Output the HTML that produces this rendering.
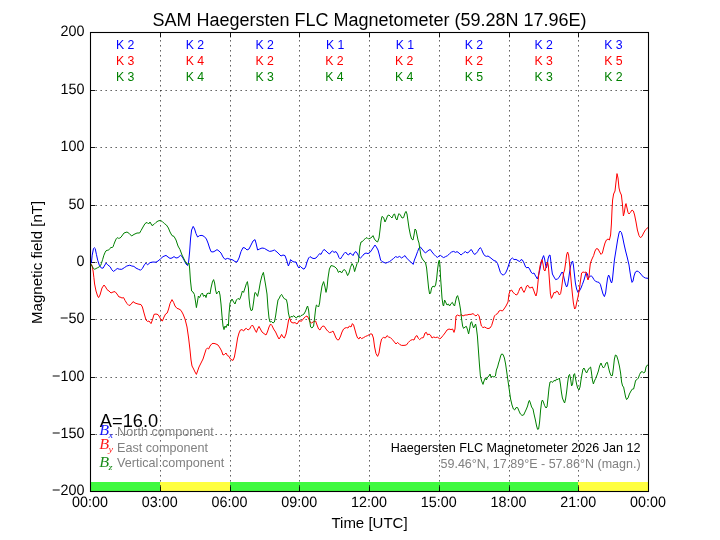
<!DOCTYPE html>
<html><head><meta charset="utf-8"><title>SAM Haegersten FLC Magnetometer</title>
<style>html,body{margin:0;padding:0;background:#fff;width:720px;height:540px;overflow:hidden}</style></head>
<body>
<svg width="720" height="540" viewBox="0 0 720 540" style="display:block;position:absolute;left:0;top:0;will-change:transform">
<rect x="0" y="0" width="720" height="540" fill="#ffffff"/>
<rect x="90.00" y="482" width="70.00" height="9.5" fill="#40f940"/>
<rect x="160.00" y="482" width="70.00" height="9.5" fill="#ffff40"/>
<rect x="230.00" y="482" width="348.00" height="9.5" fill="#40f940"/>
<rect x="578.00" y="482" width="70.00" height="9.5" fill="#ffff40"/>
<g stroke="#000" stroke-width="0.72" stroke-dasharray="1.35,3.65" fill="none">
<line x1="160.50" y1="491.5" x2="160.50" y2="32.5"/>
<line x1="230.50" y1="491.5" x2="230.50" y2="32.5"/>
<line x1="299.50" y1="491.5" x2="299.50" y2="32.5"/>
<line x1="369.50" y1="491.5" x2="369.50" y2="32.5"/>
<line x1="439.50" y1="491.5" x2="439.50" y2="32.5"/>
<line x1="509.50" y1="491.5" x2="509.50" y2="32.5"/>
<line x1="578.50" y1="491.5" x2="578.50" y2="32.5"/>
<line x1="90.5" y1="434.5" x2="648.5" y2="434.5"/>
<line x1="90.5" y1="377.5" x2="648.5" y2="377.5"/>
<line x1="90.5" y1="319.5" x2="648.5" y2="319.5"/>
<line x1="90.5" y1="262.5" x2="648.5" y2="262.5"/>
<line x1="90.5" y1="205.5" x2="648.5" y2="205.5"/>
<line x1="90.5" y1="147.5" x2="648.5" y2="147.5"/>
<line x1="90.5" y1="90.5" x2="648.5" y2="90.5"/>
</g>
<g stroke="#000" stroke-width="0.9" fill="none">
<line x1="90.50" y1="491.5" x2="90.50" y2="486.4"/>
<line x1="90.50" y1="32.5" x2="90.50" y2="37.4"/>
<line x1="160.50" y1="491.5" x2="160.50" y2="486.4"/>
<line x1="160.50" y1="32.5" x2="160.50" y2="37.4"/>
<line x1="230.50" y1="491.5" x2="230.50" y2="486.4"/>
<line x1="230.50" y1="32.5" x2="230.50" y2="37.4"/>
<line x1="299.50" y1="491.5" x2="299.50" y2="486.4"/>
<line x1="299.50" y1="32.5" x2="299.50" y2="37.4"/>
<line x1="369.50" y1="491.5" x2="369.50" y2="486.4"/>
<line x1="369.50" y1="32.5" x2="369.50" y2="37.4"/>
<line x1="439.50" y1="491.5" x2="439.50" y2="486.4"/>
<line x1="439.50" y1="32.5" x2="439.50" y2="37.4"/>
<line x1="509.50" y1="491.5" x2="509.50" y2="486.4"/>
<line x1="509.50" y1="32.5" x2="509.50" y2="37.4"/>
<line x1="578.50" y1="491.5" x2="578.50" y2="486.4"/>
<line x1="578.50" y1="32.5" x2="578.50" y2="37.4"/>
<line x1="648.50" y1="491.5" x2="648.50" y2="486.4"/>
<line x1="648.50" y1="32.5" x2="648.50" y2="37.4"/>
<line x1="90.5" y1="491.5" x2="95.0" y2="491.5"/>
<line x1="648.5" y1="491.5" x2="643.0" y2="491.5"/>
<line x1="90.5" y1="434.5" x2="95.0" y2="434.5"/>
<line x1="648.5" y1="434.5" x2="643.0" y2="434.5"/>
<line x1="90.5" y1="377.5" x2="95.0" y2="377.5"/>
<line x1="648.5" y1="377.5" x2="643.0" y2="377.5"/>
<line x1="90.5" y1="319.5" x2="95.0" y2="319.5"/>
<line x1="648.5" y1="319.5" x2="643.0" y2="319.5"/>
<line x1="90.5" y1="262.5" x2="95.0" y2="262.5"/>
<line x1="648.5" y1="262.5" x2="643.0" y2="262.5"/>
<line x1="90.5" y1="205.5" x2="95.0" y2="205.5"/>
<line x1="648.5" y1="205.5" x2="643.0" y2="205.5"/>
<line x1="90.5" y1="147.5" x2="95.0" y2="147.5"/>
<line x1="648.5" y1="147.5" x2="643.0" y2="147.5"/>
<line x1="90.5" y1="90.5" x2="95.0" y2="90.5"/>
<line x1="648.5" y1="90.5" x2="643.0" y2="90.5"/>
<line x1="90.5" y1="32.5" x2="95.0" y2="32.5"/>
<line x1="648.5" y1="32.5" x2="643.0" y2="32.5"/>
</g>
<g fill="none" stroke-width="1" stroke-linejoin="round">
<path stroke="#0000ff" d="M91.0,263.5 L91.4,262.7 L92.2,255.2 L93.5,248.5 L94.3,247.7 L95.2,248.5 L96.4,254.3 L97.7,260.2 L99.3,265.2 L101.4,268.1 L103.1,268.1 L106.0,263.1 L107.7,264.8 L110.2,266.8 L111.8,269.8 L113.5,271.4 L115.2,270.2 L117.2,268.5 L119.3,269.2 L121.8,269.3 L124.3,267.7 L126.8,266.0 L129.8,265.2 L131.8,266.0 L133.9,266.4 L136.0,268.1 L138.5,269.3 L140.6,270.2 L142.4,268.4 L144.6,264.4 L146.0,263.2 L147.6,264.8 L150.0,262.6 L153.0,262.0 L156.0,262.2 L158.0,261.0 L160.4,259.0 L163.0,256.6 L166.0,255.4 L168.0,257.0 L170.0,258.4 L172.0,258.0 L174.0,256.6 L176.0,258.0 L178.0,257.6 L180.4,255.4 L182.0,256.4 L184.0,260.0 L186.0,264.0 L187.6,265.6 L188.6,262.0 L189.6,252.0 L190.6,238.0 L191.6,230.0 L193.2,226.4 L194.6,229.0 L196.0,233.6 L197.6,237.0 L199.6,235.6 L202.0,235.4 L204.4,236.6 L206.4,239.0 L208.0,243.0 L209.6,248.0 L211.0,251.6 L213.0,252.0 L215.0,251.0 L217.0,249.6 L219.0,251.0 L221.0,253.0 L223.0,257.0 L225.0,259.4 L227.4,258.4 L230.0,259.2 L233.0,260.0 L235.0,261.6 L237.0,262.0 L239.0,258.0 L241.0,251.6 L243.0,247.6 L245.0,248.0 L247.0,250.0 L249.0,249.0 L251.0,245.0 L253.0,241.0 L255.0,239.6 L256.0,243.0 L257.6,250.0 L259.6,249.0 L262.0,248.0 L264.4,248.4 L267.0,250.0 L269.6,251.4 L272.0,251.0 L274.4,250.0 L277.0,252.0 L279.0,254.0 L281.0,256.0 L283.0,255.0 L285.0,255.6 L286.6,260.0 L288.4,266.0 L289.6,263.0 L290.6,259.6 L292.0,261.0 L294.0,262.0 L296.0,262.0 L297.6,266.0 L299.0,268.0 L300.4,266.4 L302.0,268.0 L304.0,269.2 L305.6,267.0 L307.0,262.0 L308.6,258.0 L310.0,256.6 L312.0,258.0 L314.0,258.6 L316.0,258.0 L318.0,255.6 L319.6,253.6 L321.0,254.4 L322.4,251.6 L324.0,249.4 L326.0,251.0 L328.0,253.0 L329.6,254.0 L331.0,252.0 L332.6,251.0 L334.0,252.4 L336.0,251.6 L337.6,254.0 L339.0,257.6 L340.4,259.0 L342.0,256.6 L344.0,253.6 L345.6,252.0 L347.0,254.0 L348.6,255.0 L350.0,253.0 L351.6,254.0 L353.0,255.6 L354.6,252.4 L356.0,251.6 L357.6,254.0 L359.0,257.0 L360.4,258.0 L362.0,256.6 L364.0,254.0 L366.0,253.0 L368.0,253.6 L370.0,252.4 L371.0,251.0 L373.0,248.0 L375.0,245.0 L376.4,247.0 L378.0,250.0 L379.4,255.0 L380.6,260.0 L382.0,261.6 L384.0,262.4 L385.6,263.2 L387.6,262.4 L389.6,261.6 L391.6,260.0 L393.6,258.4 L395.6,256.6 L397.6,257.4 L399.6,256.4 L401.6,258.0 L403.6,256.6 L405.0,255.6 L406.6,258.0 L408.6,260.0 L410.6,262.0 L412.0,263.0 L413.2,264.4 L414.4,260.0 L416.0,256.0 L417.6,251.6 L419.0,248.0 L420.4,247.0 L422.0,249.0 L423.6,251.0 L425.4,253.0 L427.0,251.6 L429.0,250.0 L430.4,249.6 L432.0,252.0 L434.0,254.4 L436.0,256.4 L437.4,257.4 L439.0,256.0 L440.4,255.4 L442.0,256.6 L443.6,257.6 L445.6,256.6 L447.6,255.6 L449.6,253.6 L451.6,252.0 L453.6,251.4 L455.6,252.4 L457.0,251.6 L459.0,253.0 L461.0,255.0 L462.4,254.0 L464.0,252.4 L465.6,251.6 L467.0,253.0 L468.6,252.4 L470.0,250.4 L471.4,249.6 L473.0,252.4 L474.4,254.4 L476.0,253.6 L477.6,251.6 L479.0,249.0 L480.4,247.6 L481.6,249.6 L483.0,253.0 L484.6,255.6 L486.4,256.4 L488.0,256.0 L490.0,257.4 L492.0,259.0 L494.0,260.6 L496.0,261.2 L497.6,263.6 L499.0,268.0 L500.4,272.4 L502.0,274.6 L503.6,275.0 L505.6,273.0 L507.4,269.0 L509.0,264.0 L510.4,259.6 L512.4,258.0 L514.0,259.6 L516.0,259.4 L518.0,260.6 L519.6,261.6 L521.0,259.6 L522.4,260.0 L524.0,263.0 L525.6,267.0 L527.0,268.0 L528.0,267.0 L529.6,269.0 L531.0,272.0 L532.4,273.6 L534.0,273.0 L535.6,276.0 L537.4,279.0 L538.6,275.0 L540.0,269.0 L541.4,262.0 L542.6,258.0 L543.6,255.6 L544.6,259.0 L545.6,265.0 L546.4,268.0 L547.2,265.0 L548.0,259.0 L549.0,255.6 L550.0,255.0 L550.6,259.0 L551.4,267.0 L552.4,274.0 L554.0,277.0 L555.6,279.6 L557.4,279.0 L559.0,277.6 L560.4,275.0 L562.0,272.0 L563.0,273.0 L564.0,278.0 L565.4,284.0 L566.6,287.0 L567.6,285.0 L568.6,279.0 L569.6,272.0 L570.6,266.0 L571.6,262.4 L572.6,261.0 L573.4,265.0 L574.4,274.0 L575.4,283.0 L576.6,289.0 L578.0,292.4 L579.4,291.0 L581.0,288.0 L582.4,284.4 L584.0,280.0 L585.4,275.0 L586.4,272.4 L587.4,274.0 L588.4,278.0 L589.6,277.0 L591.0,275.6 L592.4,277.0 L594.0,279.6 L595.6,281.4 L597.4,282.0 L599.0,282.4 L600.4,284.4 L601.6,289.0 L603.0,294.0 L604.4,296.6 L605.6,293.0 L606.6,285.0 L607.6,278.0 L608.6,275.0 L609.6,277.0 L610.6,281.0 L611.6,283.0 L612.4,280.0 L613.4,270.0 L614.4,260.0 L616.0,250.0 L617.6,240.0 L619.0,233.0 L620.0,231.0 L621.4,232.4 L622.6,237.0 L624.0,244.0 L625.6,251.0 L627.4,258.0 L629.0,265.0 L630.0,272.0 L631.0,278.0 L632.0,282.4 L633.0,281.0 L634.0,276.0 L635.4,272.0 L637.0,271.0 L638.4,271.6 L640.0,273.0 L641.6,275.0 L643.4,277.0 L645.4,278.0 L648.4,278.4"/>
<path stroke="#ff0000" d="M91.0,264.0 L92.2,266.0 L93.1,271.0 L93.9,277.7 L94.6,284.0 L96.0,291.0 L97.6,296.0 L98.6,297.6 L100.0,295.0 L102.0,288.0 L104.0,285.0 L105.6,287.0 L107.0,289.6 L109.0,291.0 L111.0,293.0 L113.0,292.0 L115.0,291.6 L117.0,294.0 L119.0,297.0 L120.0,297.0 L122.0,298.0 L123.6,297.6 L125.0,300.4 L127.0,303.6 L129.0,305.6 L131.0,304.4 L133.0,301.6 L135.0,303.0 L138.0,304.0 L141.0,304.6 L142.4,307.0 L144.0,313.0 L146.0,320.0 L147.4,321.4 L149.0,321.0 L151.0,323.6 L152.4,320.0 L154.0,314.4 L156.0,314.0 L158.0,314.6 L159.6,317.0 L161.0,320.0 L162.4,321.0 L164.0,317.0 L165.6,314.0 L167.2,313.0 L168.6,309.0 L170.0,303.6 L172.0,299.6 L173.6,302.4 L175.0,306.0 L177.0,308.4 L179.0,309.0 L181.0,310.4 L183.0,314.0 L185.0,319.0 L187.0,327.0 L188.6,338.0 L190.0,350.0 L191.0,360.0 L192.0,366.0 L193.6,369.0 L195.0,372.0 L196.4,374.4 L197.6,371.0 L199.0,367.0 L201.0,363.0 L203.0,359.0 L204.6,354.0 L206.0,349.6 L207.4,348.0 L208.6,349.0 L210.0,346.0 L212.0,343.6 L214.0,343.4 L216.0,344.0 L218.0,345.0 L220.0,348.0 L221.6,351.0 L223.0,355.0 L224.6,354.4 L226.0,353.0 L227.4,355.6 L229.0,356.4 L230.4,359.0 L232.0,360.0 L233.0,360.4 L234.4,357.0 L236.0,348.0 L237.6,338.0 L239.0,333.0 L240.4,330.0 L242.0,329.6 L243.6,331.0 L245.0,329.0 L246.4,328.4 L248.0,330.0 L249.6,329.0 L251.0,326.4 L252.4,325.0 L253.6,327.0 L255.0,330.0 L256.4,332.4 L257.6,329.0 L259.0,326.4 L260.4,329.0 L262.0,332.0 L264.0,333.6 L266.0,335.0 L267.4,332.0 L269.0,327.0 L270.6,324.0 L272.0,325.6 L273.6,329.0 L275.6,332.0 L277.4,336.0 L279.0,339.0 L280.4,337.0 L281.6,334.4 L283.0,337.0 L284.4,338.0 L286.0,334.0 L287.4,327.0 L288.6,320.0 L289.6,318.0 L291.0,322.0 L293.0,323.0 L295.0,322.6 L297.0,324.0 L298.4,322.0 L299.6,320.0 L301.0,321.6 L302.4,320.0 L304.0,318.0 L305.6,316.6 L307.0,316.0 L308.4,318.0 L310.0,322.0 L311.6,323.0 L313.6,321.6 L315.6,321.0 L317.0,325.0 L318.6,329.0 L320.0,330.0 L321.6,327.0 L323.0,326.0 L324.4,326.4 L326.0,329.0 L327.6,331.0 L329.6,332.6 L331.6,332.0 L333.0,331.0 L334.4,334.0 L336.0,338.0 L337.6,340.0 L339.0,339.6 L340.6,336.0 L342.0,332.0 L343.6,329.0 L345.0,328.0 L346.6,327.6 L348.0,328.0 L349.4,326.0 L351.0,327.0 L352.4,323.6 L353.6,325.0 L355.0,330.0 L356.4,335.0 L357.6,338.0 L359.0,339.0 L360.0,337.0 L361.6,338.6 L363.6,337.6 L365.6,336.4 L367.6,335.6 L369.6,334.4 L370.0,334.0 L372.0,334.0 L373.4,338.0 L374.6,347.0 L376.0,353.6 L377.6,356.4 L379.0,353.0 L380.4,344.0 L381.6,339.0 L383.4,337.4 L385.4,338.0 L387.0,335.6 L388.6,337.0 L390.4,337.6 L392.4,339.6 L394.4,342.0 L396.0,344.0 L397.6,342.4 L399.6,344.4 L401.6,345.4 L404.0,345.4 L406.4,345.0 L408.4,342.4 L410.4,340.4 L412.4,339.6 L414.0,340.0 L415.6,336.4 L417.0,335.6 L418.4,338.4 L419.6,339.6 L421.4,338.0 L423.4,337.6 L425.0,333.0 L426.4,332.4 L427.6,335.0 L429.0,334.0 L430.4,335.0 L432.0,338.0 L433.6,337.0 L435.6,337.6 L437.6,337.0 L439.6,339.0 L441.0,338.0 L443.0,335.6 L445.0,333.0 L447.0,330.0 L449.0,329.0 L451.0,329.6 L452.6,329.0 L454.0,332.4 L455.0,329.0 L456.0,316.0 L457.6,315.0 L459.6,316.0 L461.0,314.4 L463.0,316.0 L465.0,315.0 L467.0,315.0 L469.0,314.4 L471.0,314.4 L473.0,313.6 L474.6,315.0 L476.0,316.0 L477.6,314.4 L479.0,315.6 L480.0,320.0 L481.4,326.0 L483.0,327.6 L484.6,327.0 L486.4,328.0 L488.0,328.6 L490.0,328.0 L491.6,325.6 L493.0,321.0 L494.4,316.0 L496.0,314.4 L497.6,313.6 L499.0,311.0 L500.6,310.4 L502.4,311.0 L504.0,309.0 L506.0,306.0 L508.0,302.0 L509.0,294.0 L510.0,291.0 L511.6,290.0 L513.0,292.4 L514.6,293.6 L516.0,295.0 L517.4,294.4 L518.6,291.6 L520.0,288.0 L521.4,287.0 L522.6,290.0 L524.0,292.4 L525.4,289.6 L526.6,286.0 L528.0,285.4 L529.6,288.0 L531.0,287.6 L532.4,287.0 L533.6,290.0 L535.0,294.0 L536.0,296.0 L537.0,292.0 L538.0,282.0 L539.0,272.0 L540.0,266.0 L541.0,262.0 L542.0,259.6 L543.0,264.0 L544.0,270.0 L545.0,271.0 L546.0,267.0 L547.0,263.0 L547.6,262.0 L548.4,266.0 L549.4,280.0 L550.4,294.0 L551.4,298.4 L552.6,296.0 L554.0,292.4 L555.4,293.0 L556.6,291.0 L558.0,292.0 L559.4,295.0 L560.6,293.6 L561.6,288.0 L562.6,280.0 L563.6,273.0 L564.6,270.0 L565.6,263.0 L566.6,255.0 L567.6,252.0 L568.6,255.0 L569.6,264.0 L570.4,273.0 L571.4,284.0 L572.4,294.0 L573.4,303.0 L574.6,309.0 L575.6,308.0 L576.6,303.0 L578.0,297.0 L579.4,289.0 L580.6,280.0 L581.6,273.0 L583.0,272.0 L584.6,272.4 L586.0,272.0 L587.0,277.0 L588.0,280.0 L589.0,277.0 L589.6,270.0 L590.4,263.0 L592.0,259.0 L593.6,255.6 L595.0,251.0 L596.4,248.6 L598.0,249.0 L599.6,252.0 L601.0,254.4 L602.4,253.0 L603.6,248.0 L605.0,243.0 L606.4,240.0 L608.0,239.0 L609.4,240.0 L610.6,235.0 L611.4,224.0 L612.0,210.0 L612.6,200.0 L613.6,194.0 L615.0,191.0 L616.0,182.0 L617.0,173.6 L618.0,178.0 L619.0,188.0 L620.0,192.0 L621.4,195.0 L622.4,204.0 L623.4,216.0 L624.4,212.0 L625.4,205.0 L626.0,203.6 L627.0,208.0 L628.0,212.4 L629.0,214.0 L630.4,212.4 L632.0,210.0 L633.4,211.0 L634.6,215.0 L636.0,222.0 L637.4,230.0 L639.0,235.6 L640.4,237.6 L642.0,236.4 L643.6,233.0 L645.6,229.6 L648.4,227.2"/>
<path stroke="#008000" d="M91.0,264.3 L92.2,266.4 L93.5,268.5 L94.8,269.3 L96.0,268.5 L97.7,267.7 L99.3,266.8 L100.6,265.6 L101.4,263.5 L102.7,259.3 L103.9,255.2 L105.2,252.2 L106.0,250.8 L107.2,250.3 L108.5,250.2 L109.8,248.5 L111.0,247.5 L112.2,247.5 L113.1,246.8 L113.9,244.3 L115.2,241.0 L116.4,238.5 L117.2,237.7 L118.5,238.3 L119.8,238.1 L121.0,237.2 L124.0,233.0 L127.0,232.0 L129.4,233.6 L131.6,236.0 L134.0,234.4 L137.0,233.0 L139.6,233.0 L141.0,230.6 L143.0,227.0 L145.0,223.6 L147.0,222.4 L148.6,224.0 L150.0,222.0 L152.0,225.6 L154.0,224.4 L156.0,222.4 L158.0,221.0 L160.4,220.4 L162.4,221.6 L164.4,223.6 L166.4,225.0 L168.4,228.0 L170.0,232.0 L172.0,235.6 L174.0,236.4 L176.0,240.0 L178.0,246.0 L180.0,249.6 L182.0,255.0 L184.0,259.0 L186.0,263.0 L188.0,264.4 L189.0,263.0 L189.6,268.0 L190.4,280.0 L191.6,291.0 L193.0,292.0 L194.4,294.4 L195.6,302.0 L196.4,307.6 L197.4,302.0 L198.4,296.0 L199.6,297.6 L201.0,294.4 L202.4,293.0 L203.6,296.4 L205.0,295.0 L206.0,297.6 L207.0,293.6 L209.0,293.0 L210.0,294.0 L211.0,288.0 L212.4,282.0 L213.6,279.6 L214.6,283.0 L215.6,290.0 L216.6,294.0 L217.6,292.4 L219.0,291.0 L220.0,295.0 L221.0,304.0 L222.0,316.0 L223.0,326.0 L224.0,329.6 L225.0,326.0 L226.0,327.6 L227.4,324.0 L228.4,326.0 L229.0,314.0 L230.0,303.0 L232.0,299.0 L233.6,302.0 L235.0,304.0 L236.4,300.0 L238.0,298.4 L239.6,299.6 L241.0,296.0 L242.4,291.0 L243.6,292.4 L245.0,288.0 L246.4,283.6 L247.4,281.6 L248.4,288.0 L249.0,298.0 L250.0,307.0 L251.0,310.6 L252.4,310.0 L253.6,302.0 L254.6,294.0 L255.2,292.4 L256.4,294.0 L257.6,296.4 L259.0,290.0 L260.4,282.0 L262.0,275.6 L263.4,272.4 L264.4,278.0 L265.6,285.0 L267.0,294.0 L268.0,308.0 L269.0,318.0 L270.0,322.0 L271.6,321.6 L273.0,323.0 L274.4,322.0 L275.6,316.0 L277.0,306.0 L278.0,300.0 L279.4,298.0 L280.4,295.6 L281.6,294.4 L283.0,297.0 L284.6,299.0 L286.4,299.6 L287.4,304.0 L288.4,313.0 L289.6,318.0 L291.0,316.4 L292.4,317.0 L293.6,315.6 L295.0,317.0 L296.4,318.0 L298.0,316.0 L299.6,317.0 L301.0,315.6 L302.4,315.0 L304.0,314.0 L305.6,311.0 L307.0,307.0 L307.6,306.0 L308.6,310.0 L309.6,320.0 L310.6,327.0 L312.0,328.0 L313.6,326.0 L314.6,318.0 L315.6,309.0 L316.4,305.0 L317.6,306.0 L318.6,307.0 L319.6,303.0 L320.4,296.0 L322.0,286.0 L323.6,281.6 L325.0,287.0 L326.0,292.4 L327.0,288.0 L328.0,278.0 L329.4,269.0 L331.0,265.6 L333.0,266.0 L335.0,267.0 L337.0,269.0 L338.4,272.4 L340.0,271.0 L341.6,273.0 L343.0,270.4 L344.6,269.6 L346.0,271.6 L347.6,275.6 L349.0,273.0 L350.4,267.6 L352.0,263.6 L353.4,266.0 L354.6,271.6 L356.0,267.0 L357.0,263.6 L358.4,262.0 L359.2,254.0 L360.0,246.0 L361.0,242.0 L362.4,241.6 L364.0,239.6 L365.6,238.4 L367.0,237.6 L368.4,239.0 L370.0,238.4 L372.0,237.0 L373.0,235.6 L374.4,239.0 L376.0,241.0 L377.6,242.0 L379.0,238.0 L380.0,230.0 L381.0,221.0 L382.0,216.4 L383.6,217.6 L385.0,222.0 L386.4,219.0 L387.6,215.6 L389.0,215.0 L390.4,216.4 L392.0,218.0 L393.6,214.4 L394.6,214.0 L396.0,219.0 L397.0,220.0 L398.0,216.0 L399.0,213.6 L400.4,215.0 L402.0,218.0 L403.6,217.6 L405.0,213.0 L406.0,211.4 L407.0,214.0 L408.0,221.0 L409.0,228.0 L410.4,235.0 L411.6,239.0 L413.0,240.0 L414.0,235.0 L415.0,229.0 L416.0,230.0 L417.0,235.0 L418.0,240.0 L419.0,243.0 L420.0,250.0 L421.0,256.0 L422.4,259.0 L424.0,261.0 L425.6,263.0 L426.6,268.0 L427.6,278.0 L428.6,288.0 L429.6,294.0 L430.6,293.0 L431.6,288.0 L433.0,286.0 L434.4,287.0 L435.6,285.0 L436.6,279.0 L437.6,269.0 L438.6,262.0 L439.4,260.0 L440.0,266.0 L440.6,278.0 L441.6,292.0 L442.0,298.0 L443.0,305.0 L443.6,306.0 L444.6,300.0 L445.6,302.0 L447.0,305.0 L448.4,304.0 L449.6,306.0 L451.0,303.6 L452.4,302.4 L453.6,305.0 L454.6,306.0 L455.6,301.0 L456.6,297.0 L457.6,295.6 L458.6,299.0 L459.6,304.0 L460.6,310.0 L461.6,319.0 L462.6,326.0 L463.6,328.4 L465.0,327.0 L466.4,326.4 L467.6,330.0 L468.6,334.0 L469.6,329.0 L470.6,323.0 L471.6,321.6 L472.6,325.0 L473.6,328.0 L474.6,326.0 L475.6,324.0 L476.4,328.0 L477.4,336.0 L478.4,350.0 L479.4,364.0 L480.4,376.0 L481.6,381.0 L483.0,384.4 L484.0,381.0 L485.4,378.0 L486.4,380.0 L487.6,377.0 L489.0,376.0 L490.0,374.0 L491.0,377.0 L492.4,376.4 L494.0,377.0 L495.4,376.0 L496.4,370.0 L497.6,367.0 L498.6,363.0 L499.6,360.0 L500.6,356.0 L501.6,354.0 L503.0,354.4 L504.4,358.0 L505.6,364.0 L506.6,371.0 L507.6,378.0 L508.6,385.0 L509.6,392.0 L510.6,399.0 L512.0,405.0 L513.4,409.0 L514.6,410.0 L516.0,407.6 L517.6,407.6 L519.0,411.0 L520.4,414.0 L522.0,415.4 L523.6,415.0 L525.0,412.0 L526.4,409.0 L527.6,406.0 L528.6,402.0 L529.4,400.4 L530.4,403.0 L531.6,407.0 L533.0,409.0 L534.0,414.0 L535.4,420.0 L536.6,426.0 L537.6,429.4 L538.6,429.0 L539.6,422.0 L540.6,410.0 L541.6,402.0 L542.4,400.0 L543.4,402.0 L544.6,405.6 L546.0,408.0 L547.0,407.0 L548.0,398.0 L549.0,388.0 L550.0,382.0 L551.4,381.6 L552.6,382.4 L554.0,380.4 L555.4,381.0 L556.6,379.0 L558.0,379.6 L559.4,378.0 L560.4,384.0 L561.4,392.0 L562.4,398.0 L563.6,401.0 L564.6,403.0 L565.6,399.0 L566.6,392.0 L567.6,383.0 L568.6,376.0 L569.6,374.4 L570.6,379.0 L571.6,386.0 L572.6,384.0 L573.6,375.0 L574.6,373.6 L575.6,379.0 L576.6,384.0 L577.6,388.0 L579.0,390.0 L580.0,387.0 L581.0,380.0 L582.0,374.0 L583.0,369.0 L584.0,368.0 L585.4,371.0 L586.6,373.0 L588.0,370.0 L589.4,368.0 L590.6,367.0 L591.4,372.0 L592.4,380.0 L593.4,384.0 L594.4,381.0 L595.6,378.6 L597.0,375.0 L598.4,371.0 L599.6,366.0 L601.0,363.0 L602.0,365.6 L603.4,368.0 L604.6,366.6 L606.0,363.0 L607.4,362.4 L608.4,367.0 L609.6,372.0 L611.0,375.6 L612.4,375.6 L613.4,368.0 L614.4,359.0 L615.4,355.0 L616.6,355.6 L618.0,360.0 L619.4,366.0 L620.6,373.0 L621.6,382.0 L622.6,386.0 L623.6,387.0 L624.6,392.0 L625.6,397.0 L626.6,399.6 L628.0,398.0 L629.4,394.0 L631.0,391.0 L632.4,389.0 L633.6,389.0 L634.6,385.0 L635.6,380.4 L637.0,379.6 L638.4,378.0 L639.6,374.4 L641.0,372.0 L642.4,371.6 L643.6,373.0 L645.0,372.0 L646.0,367.0 L647.4,365.0 L648.4,365.6"/>
</g>
<rect x="90.5" y="32.5" width="558.0" height="459.0" fill="none" stroke="#000" stroke-width="1.1"/>
<g font-family="'Liberation Sans', sans-serif" fill="#000">
<text x="369.5" y="26.3" font-size="18" text-anchor="middle">SAM Haegersten FLC Magnetometer (59.28N 17.96E)</text>
<text transform="translate(84.4,494.90) scale(0.96,1) skewX(0.1)" font-size="15" text-anchor="end">−200</text>
<text transform="translate(84.4,437.90) scale(0.96,1) skewX(0.1)" font-size="15" text-anchor="end">−150</text>
<text transform="translate(84.4,380.90) scale(0.96,1) skewX(0.1)" font-size="15" text-anchor="end">−100</text>
<text transform="translate(84.4,322.90) scale(0.96,1) skewX(0.1)" font-size="15" text-anchor="end">−50</text>
<text transform="translate(84.4,265.90) scale(0.96,1) skewX(0.1)" font-size="15" text-anchor="end">0</text>
<text transform="translate(84.4,208.90) scale(0.96,1) skewX(0.1)" font-size="15" text-anchor="end">50</text>
<text transform="translate(84.4,150.90) scale(0.96,1) skewX(0.1)" font-size="15" text-anchor="end">100</text>
<text transform="translate(84.4,93.90) scale(0.96,1) skewX(0.1)" font-size="15" text-anchor="end">150</text>
<text transform="translate(84.4,35.90) scale(0.96,1) skewX(0.1)" font-size="15" text-anchor="end">200</text>
<text transform="translate(90.00,506.8) scale(0.957,1) skewX(0.1)" font-size="15" text-anchor="middle">00:00</text>
<text transform="translate(159.75,506.8) scale(0.957,1) skewX(0.1)" font-size="15" text-anchor="middle">03:00</text>
<text transform="translate(229.50,506.8) scale(0.957,1) skewX(0.1)" font-size="15" text-anchor="middle">06:00</text>
<text transform="translate(299.25,506.8) scale(0.957,1) skewX(0.1)" font-size="15" text-anchor="middle">09:00</text>
<text transform="translate(369.00,506.8) scale(0.957,1) skewX(0.1)" font-size="15" text-anchor="middle">12:00</text>
<text transform="translate(438.75,506.8) scale(0.957,1) skewX(0.1)" font-size="15" text-anchor="middle">15:00</text>
<text transform="translate(508.50,506.8) scale(0.957,1) skewX(0.1)" font-size="15" text-anchor="middle">18:00</text>
<text transform="translate(578.25,506.8) scale(0.957,1) skewX(0.1)" font-size="15" text-anchor="middle">21:00</text>
<text transform="translate(648.00,506.8) scale(0.957,1) skewX(0.1)" font-size="15" text-anchor="middle">00:00</text>
<text x="369.5" y="528" font-size="15" text-anchor="middle">Time [UTC]</text>
<text transform="translate(42.4,262.4) rotate(-90)" font-size="15.1" text-anchor="middle">Magnetic field [nT]</text>
<text x="125.17" y="49" font-size="12.3" text-anchor="middle" fill="#0000ff">K 2</text>
<text x="125.17" y="65" font-size="12.3" text-anchor="middle" fill="#ff0000">K 3</text>
<text x="125.17" y="81" font-size="12.3" text-anchor="middle" fill="#008000">K 3</text>
<text x="194.93" y="49" font-size="12.3" text-anchor="middle" fill="#0000ff">K 2</text>
<text x="194.93" y="65" font-size="12.3" text-anchor="middle" fill="#ff0000">K 4</text>
<text x="194.93" y="81" font-size="12.3" text-anchor="middle" fill="#008000">K 4</text>
<text x="264.68" y="49" font-size="12.3" text-anchor="middle" fill="#0000ff">K 2</text>
<text x="264.68" y="65" font-size="12.3" text-anchor="middle" fill="#ff0000">K 2</text>
<text x="264.68" y="81" font-size="12.3" text-anchor="middle" fill="#008000">K 3</text>
<text x="335.23" y="49" font-size="12.3" text-anchor="middle" fill="#0000ff">K 1</text>
<text x="334.43" y="65" font-size="12.3" text-anchor="middle" fill="#ff0000">K 2</text>
<text x="334.43" y="81" font-size="12.3" text-anchor="middle" fill="#008000">K 4</text>
<text x="404.98" y="49" font-size="12.3" text-anchor="middle" fill="#0000ff">K 1</text>
<text x="404.18" y="65" font-size="12.3" text-anchor="middle" fill="#ff0000">K 2</text>
<text x="404.18" y="81" font-size="12.3" text-anchor="middle" fill="#008000">K 4</text>
<text x="473.93" y="49" font-size="12.3" text-anchor="middle" fill="#0000ff">K 2</text>
<text x="473.93" y="65" font-size="12.3" text-anchor="middle" fill="#ff0000">K 2</text>
<text x="473.93" y="81" font-size="12.3" text-anchor="middle" fill="#008000">K 5</text>
<text x="543.67" y="49" font-size="12.3" text-anchor="middle" fill="#0000ff">K 2</text>
<text x="543.67" y="65" font-size="12.3" text-anchor="middle" fill="#ff0000">K 3</text>
<text x="543.67" y="81" font-size="12.3" text-anchor="middle" fill="#008000">K 3</text>
<text x="613.42" y="49" font-size="12.3" text-anchor="middle" fill="#0000ff">K 3</text>
<text x="613.42" y="65" font-size="12.3" text-anchor="middle" fill="#ff0000">K 5</text>
<text x="613.42" y="81" font-size="12.3" text-anchor="middle" fill="#008000">K 2</text>
<text x="99.8" y="426.6" font-size="18.3">A=16.0</text>
<text transform="translate(99.2,434.9) scale(1.13,1)" font-family="'Liberation Serif', serif" font-style="italic" font-size="14.3" fill="#0000ff" fill-opacity="0.9">B</text>
<text transform="translate(108.4,437.9) scale(1.15,1)" font-family="'Liberation Serif', serif" font-style="italic" font-size="9" fill="#0000ff" fill-opacity="0.9">x</text>
<text x="117.1" y="435.7" font-size="12.6" fill="#808080">North component</text>
<text transform="translate(99.2,448.8) scale(1.13,1)" font-family="'Liberation Serif', serif" font-style="italic" font-size="14.3" fill="#ff0000" fill-opacity="0.9">B</text>
<text transform="translate(108.4,451.8) scale(1.15,1)" font-family="'Liberation Serif', serif" font-style="italic" font-size="9" fill="#ff0000" fill-opacity="0.9">y</text>
<text x="117.1" y="451.8" font-size="12.6" fill="#808080">East component</text>
<text transform="translate(99.2,466.5) scale(1.13,1)" font-family="'Liberation Serif', serif" font-style="italic" font-size="14.3" fill="#008000" fill-opacity="0.9">B</text>
<text transform="translate(108.4,469.5) scale(1.15,1)" font-family="'Liberation Serif', serif" font-style="italic" font-size="9" fill="#008000" fill-opacity="0.9">z</text>
<text x="117.1" y="467.3" font-size="12.6" fill="#808080">Vertical component</text>
<text x="640.6" y="452" font-size="12.6" text-anchor="end">Haegersten FLC Magnetometer 2026 Jan 12</text>
<text x="640.6" y="467.5" font-size="12.52" text-anchor="end" fill="#808080">59.46°N, 17.89°E - 57.86°N (magn.)</text>
</g>
</svg>
</body></html>
